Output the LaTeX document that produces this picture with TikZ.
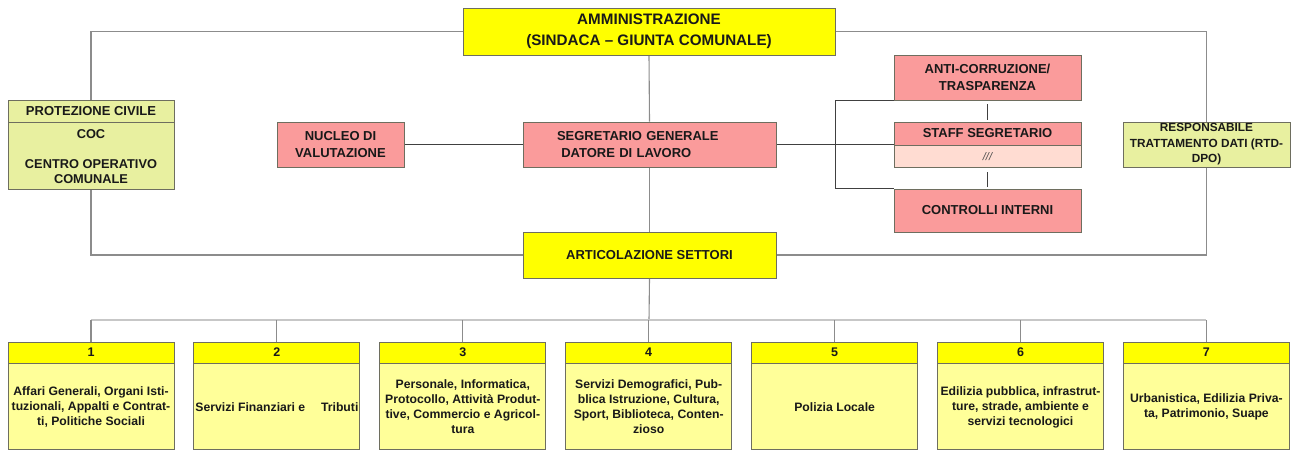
\documentclass[tikz,border=0pt]{standalone}
\usepackage{fontspec}
\setmainfont{Liberation Sans}
\usetikzlibrary{backgrounds}
\definecolor{giallo}{RGB}{255,255,0}
\definecolor{giallino}{RGB}{255,255,153}
\definecolor{verdino}{RGB}{232,240,160}
\definecolor{rosa}{RGB}{250,155,155}
\definecolor{rosino}{RGB}{255,220,210}
\definecolor{bordo}{RGB}{110,110,95}

\begin{document}
\begin{tikzpicture}[x=1pt,y=-1pt,
  box/.style={draw=bordo,line width=0.9pt,inner sep=0pt,align=center,text=black!90,
    font=\fontsize{13}{16.5}\selectfont\bfseries},
  wh/.style 2 args={minimum width=#1,minimum height=#2},
  lin/.style={draw=black!45,line width=1.1pt},
  scuro/.style={draw=black!75,line width=1pt},
  chiaro/.style={draw=black!22,line width=1.1pt}]
\useasboundingbox (0,0) rectangle (1293,452);

\node[box,fill=giallo,wh={372}{47},font=\fontsize{15.2}{21}\selectfont\bfseries] (amm) at (649,31.5)
  {AMMINISTRAZIONE\\(SINDACA – GIUNTA COMUNALE)};
\node[box,fill=verdino,wh={166}{22}] (pc) at (91,111) {PROTEZIONE CIVILE};
\node[box,fill=verdino,wh={166}{67},font=\fontsize{12.8}{15}\selectfont\bfseries,anchor=north] (coc) at (pc.south)
  {COC\\[15pt]CENTRO OPERATIVO\\COMUNALE};
\node[box,fill=rosa,wh={127}{45}] (nuc) at (340.5,144.5) {NUCLEO DI\\VALUTAZIONE};
\node[box,fill=rosa,wh={253}{45},align=left,text width=185] (seg) at (649.5,144.5) {SEGRETARIO GENERALE\\\ DATORE DI LAVORO};
\node[box,fill=giallo,wh={253}{46}] (art) at (649.5,255) {ARTICOLAZIONE SETTORI};
\node[box,fill=rosa,wh={187}{45}] (anti) at (987.5,77.5) {ANTI-CORRUZIONE/\\TRASPARENZA};
\node[box,fill=rosa,wh={187}{23}] (staff) at (987.5,133.5) {STAFF SEGRETARIO};
\node[box,fill=rosino,wh={187}{22},anchor=north,font=\fontsize{11}{13}\selectfont\itshape,text=black!70] (staffb) at (staff.south) {///};
\node[box,fill=rosa,wh={187}{43}] (ctrl) at (987.5,210.5) {CONTROLLI INTERNI};
\node[box,fill=verdino,wh={167}{45},font=\fontsize{11.8}{15.5}\selectfont\bfseries] (rtd) at (1206.5,144.5)
  {RESPONSABILE\\TRATTAMENTO DATI (RTD-\\DPO)};
\coordinate (brk) at (835,145);
\coordinate (bus) at (649,320);

\foreach \t [count=\i] in {
  {Affari Generali, Organi Isti-\\tuzionali, Appalti e Contrat-\\ti, Politiche Sociali},
  {Servizi Finanziari e\hspace{1.3em}Tributi},
  {Personale, Informatica,\\Protocollo, Attività Produt-\\tive, Commercio e Agricol-\\tura},
  {Servizi Demografici, Pub-\\blica Istruzione, Cultura,\\Sport, Biblioteca, Conten-\\zioso},
  {Polizia Locale},
  {Edilizia pubblica, infrastrut-\\ture, strade, ambiente e\\servizi tecnologici},
  {Urbanistica, Edilizia Priva-\\ta, Patrimonio, Suape}}{
  \node[box,fill=giallo,wh={166}{21},font=\fontsize{12.5}{15}\selectfont\bfseries] (s\i) at ({91+185.9*(\i-1)},352.5) {\i};
  \node[box,fill=giallino,wh={166}{86},anchor=north,font=\fontsize{12.2}{15}\selectfont\bfseries] (b\i) at (s\i.south) {\t};
}

\begin{scope}[on background layer]
\draw[lin] (amm.west) -| (pc.center) |- (art.west);
\draw[lin] (amm.east) -| (rtd.center) |- (art.east);
\draw[lin] (amm.south) -- (seg.north);
\draw[lin] (seg.south) -- (art.north);
\draw[lin] (art.south) -- (bus);
\draw[scuro] (nuc.east) -- (seg.west);
\draw[scuro] (seg.east) -- (seg.east -| staff.west);
\draw[scuro] (anti.south west) -| (brk) |- (ctrl.north west);
\draw[scuro,shorten <=4pt,shorten >=2pt] (anti.south) -- (staff.north);
\draw[scuro,shorten <=4pt,shorten >=2pt] (staffb.south) -- (ctrl.north);
\draw[chiaro] (s1.north |- bus) -- (s7.north |- bus);
\foreach \i in {1,...,7} \draw[lin] (s\i.north) -- (s\i.north |- bus);
\end{scope}
\end{tikzpicture}
\end{document}
